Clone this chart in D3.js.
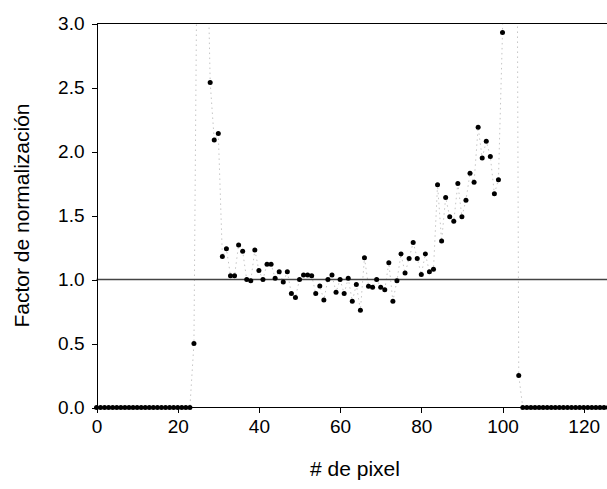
<!DOCTYPE html>
<html>
<head>
<meta charset="utf-8">
<script src="https://cdnjs.cloudflare.com/ajax/libs/d3/7.8.5/d3.min.js"></script>
<style>
  body { margin: 0; background: #fff; }
  svg { display: block; font-family: "Liberation Sans", Arial, sans-serif; }
  .axis path, .axis line { stroke: #000; shape-rendering: crispEdges; }
  .axis text { font-size: 19px; fill: #000; }
</style>
</head>
<body>
<script>
// pixel index 0..127
var pixels = d3.range(0, 128);

// normalization factor per pixel (values > 3 fall outside the plot)
var factor = [
  0, 0, 0, 0, 0, 0, 0, 0, 0, 0,
  0, 0, 0, 0, 0, 0, 0, 0, 0, 0,
  0, 0, 0, 0, 0.50, 4.6, 5.2, 4.1, 2.54, 2.09,
  2.14, 1.18, 1.24, 1.03, 1.03, 1.27, 1.22, 1.00, 0.99, 1.23,
  1.07, 1.00, 1.12, 1.12, 1.01, 1.06, 0.98, 1.06, 0.89, 0.86,
  1.00, 1.035, 1.035, 1.03, 0.89, 0.95, 0.84, 1.00, 1.035, 0.90,
  1.00, 0.89, 1.01, 0.83, 0.96, 0.76, 1.17, 0.947, 0.94, 1.00,
  0.94, 0.92, 1.13, 0.83, 0.99, 1.20, 1.05, 1.165, 1.29, 1.165,
  1.04, 1.20, 1.06, 1.08, 1.74, 1.30, 1.64, 1.49, 1.455, 1.75,
  1.49, 1.62, 1.83, 1.76, 2.19, 1.95, 2.08, 1.96, 1.67, 1.78,
  2.93, 4.8, 6.0, 9.0, 0.25, 0, 0, 0, 0, 0,
  0, 0, 0, 0, 0, 0, 0, 0, 0, 0,
  0, 0, 0, 0, 0, 0, 0, 0
];

var xTicks = [0, 20, 40, 60, 80, 100, 120];
var yTicks = [0, 0.5, 1.0, 1.5, 2.0, 2.5, 3.0];
var refValue = 1.0;

var width = 607, height = 489;
var plotLeft = 96.5, plotRight = 96.5 + 126 * 4.06, plotTop = 23.5, plotBottom = 407.5;

var data = pixels.map(function (p, i) { return { x: p, y: factor[i] }; });

var svg = d3.select("body").append("svg")
    .attr("width", width)
    .attr("height", height);

var xScale = d3.scaleLinear().domain([0, 126]).range([plotLeft, plotRight]);
var yScale = d3.scaleLinear().domain([0, 3]).range([plotBottom, plotTop]);

svg.append("clipPath").attr("id", "plotClip")
  .append("rect")
    .attr("x", plotLeft - 6).attr("y", plotTop)
    .attr("width", width - plotLeft + 6).attr("height", plotBottom - plotTop + 6);

var plot = svg.append("g").attr("clip-path", "url(#plotClip)");

// dotted connecting line
plot.append("path")
    .datum(data)
    .attr("fill", "none")
    .attr("stroke", "#c4c4c4")
    .attr("stroke-width", 1)
    .attr("stroke-dasharray", "1.5,3.5")
    .attr("d", d3.line()
        .x(function (d) { return xScale(d.x); })
        .y(function (d) { return yScale(d.y); }));

// reference line at 1.0
plot.append("line")
    .attr("x1", plotLeft).attr("x2", width)
    .attr("y1", yScale(refValue)).attr("y2", yScale(refValue))
    .attr("stroke", "#444")
    .attr("stroke-width", 1.3);

plot.selectAll("circle")
    .data(data)
    .enter()
    .append("circle")
    .attr("cx", function (d) { return xScale(d.x); })
    .attr("cy", function (d) { return yScale(d.y); })
    .attr("r", 2.5)
    .attr("fill", "#000");

// top frame
svg.append("line")
    .attr("x1", plotLeft).attr("x2", width)
    .attr("y1", plotTop).attr("y2", plotTop)
    .attr("stroke", "#000")
    .attr("shape-rendering", "crispEdges");

// Adding X axis
var xAxis = svg.append("g")
    .attr("class", "axis")
    .attr("transform", "translate(0," + plotBottom + ")")
    .call(d3.axisBottom(xScale).tickValues(xTicks).tickSize(5).tickSizeOuter(0).tickPadding(7));
xAxis.select(".domain").attr("d", "M" + plotLeft + ",0H" + width);

// Adding Y axis
svg.append("g")
    .attr("class", "axis")
    .attr("transform", "translate(" + plotLeft + ",0)")
    .call(d3.axisLeft(yScale).tickValues(yTicks).tickFormat(d3.format(".1f")).tickSize(5).tickSizeOuter(0).tickPadding(7));

svg.append("text")
    .attr("x", 355)
    .attr("y", 476)
    .attr("text-anchor", "middle")
    .style("font-size", "21px")
    .text("# de pixel");

svg.append("text")
    .attr("transform", "translate(29," + ((plotTop + plotBottom) / 2) + ") rotate(-90)")
    .attr("text-anchor", "middle")
    .style("font-size", "21px")
    .text("Factor de normalización");
</script>
</body>
</html>
